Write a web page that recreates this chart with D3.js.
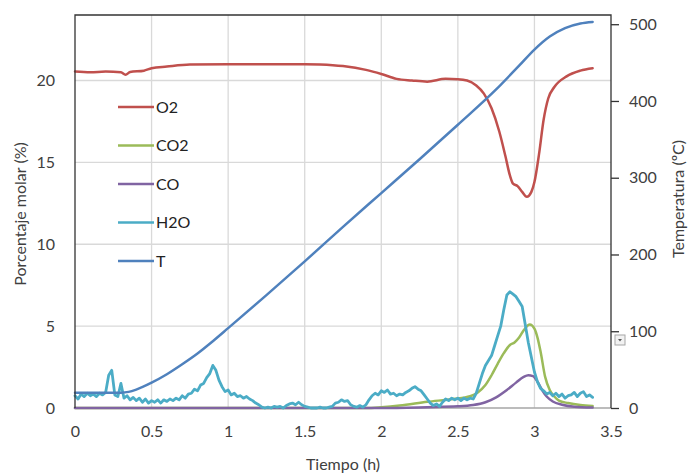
<!DOCTYPE html>
<html>
<head>
<meta charset="utf-8">
<script src="https://cdn.jsdelivr.net/npm/d3@7"></script>
<style>
  html, body { margin: 0; padding: 0; background: #fff; }
  svg { display: block; font-family: Lato, "Open Sans", sans-serif; }
</style>
</head>
<body>
<svg id="chart" width="691" height="475"></svg>
<script>
// Gas composition (% mol) and temperature (ºC) versus time (h)
const seriesNames = ["O2", "CO2", "CO", "H2O", "T"];
const seriesColors = ["#C0504D", "#9BBB59", "#8064A2", "#4BACC6", "#4F81BD"];

const xTicks = [0, 0.5, 1, 1.5, 2, 2.5, 3, 3.5];
const xTickLabels = ["0", "0.5", "1", "1.5", "2", "2.5", "3", "3.5"];
const leftTicks = [0, 5, 10, 15, 20];
const rightTicks = [0, 100, 200, 300, 400, 500];

const o2Time = [0, 0.1, 0.2, 0.3, 0.33, 0.36, 0.45, 0.5, 0.6, 0.75, 1.0, 1.25, 1.5, 1.6, 1.75, 1.9, 2.0, 2.1, 2.2, 2.3, 2.42, 2.5, 2.56, 2.62, 2.67, 2.72, 2.77, 2.81, 2.84, 2.86, 2.89, 2.92, 2.95, 2.98, 3.0, 3.03, 3.06, 3.09, 3.13, 3.21, 3.3, 3.38];
const o2Values = [20.55, 20.5, 20.55, 20.5, 20.35, 20.52, 20.6, 20.75, 20.85, 20.97, 21.0, 21.0, 21.0, 20.98, 20.88, 20.65, 20.4, 20.1, 20.0, 19.93, 20.1, 20.08, 20.0, 19.7, 19.2, 18.3, 16.9, 15.4, 14.2, 13.7, 13.55, 13.2, 12.9, 13.2, 13.8, 15.5, 17.6, 18.9, 19.6, 20.25, 20.6, 20.75];

const co2Time = [0, 1.9, 2.0, 2.12, 2.3, 2.47, 2.58, 2.63, 2.68, 2.72, 2.76, 2.8, 2.84, 2.87, 2.9, 2.93, 2.97, 3.0, 3.02, 3.04, 3.07, 3.1, 3.13, 3.16, 3.22, 3.3, 3.38];
const co2Values = [0, 0, 0.05, 0.15, 0.38, 0.55, 0.72, 0.95, 1.4, 2.0, 2.7, 3.35, 3.85, 4.0, 4.3, 4.75, 5.1, 4.85, 4.3, 3.45, 1.9, 1.1, 0.7, 0.45, 0.3, 0.18, 0.12];

const coTime = [0, 2.0, 2.3, 2.5, 2.6, 2.68, 2.75, 2.82, 2.88, 2.93, 2.96, 2.99, 3.02, 3.05, 3.08, 3.12, 3.18, 3.26, 3.38];
const coValues = [0, 0, 0.05, 0.1, 0.18, 0.35, 0.65, 1.1, 1.55, 1.9, 2.0, 1.95, 1.6, 1.1, 0.7, 0.4, 0.2, 0.08, 0.03];

// H2O sampled every 0.02 h from 0 to 3.38 h
const h2oStep = 0.02;
const h2oValues = [
  0.75, 0.55, 0.85, 0.7, 0.9, 0.75, 0.85, 0.7, 0.9, 0.8,
  0.95, 2.0, 2.3, 0.8, 0.7, 1.5, 0.6, 0.75, 0.5, 0.65,
  0.45, 0.6, 0.35, 0.55, 0.3, 0.45, 0.35, 0.5, 0.3, 0.5,
  0.4, 0.55, 0.45, 0.6, 0.5, 0.75, 0.6, 0.85, 0.9, 1.15,
  1.05, 1.4, 1.5, 1.85, 2.1, 2.6, 2.3, 1.7, 1.3, 1.0,
  1.1, 0.8, 0.9, 0.7, 0.75, 0.6, 0.7, 0.55, 0.45, 0.3,
  0.2, 0.05, 0.0, 0.05, 0.0, 0.1, 0.05, 0.1, 0.0, 0.15,
  0.25, 0.3, 0.2, 0.35, 0.2, 0.1, 0.05, 0.0, 0.0, 0.0,
  0.05, 0.0, 0.0, 0.05, 0.1, 0.3, 0.35, 0.5, 0.4, 0.45,
  0.2, 0.1, 0.05, 0.15, 0.05, 0.2, 0.5, 0.75, 0.9, 0.8,
  1.05, 0.95, 1.1, 0.85, 0.9, 0.75, 0.85, 0.8, 0.95, 1.05,
  1.2, 1.3, 1.15, 1.05, 0.8, 0.55, 0.3, 0.15, 0.25, 0.1,
  0.35, 0.55, 0.45, 0.6, 0.5, 0.6, 0.45, 0.6, 0.5, 0.6,
  0.55, 0.9, 1.5, 2.1, 2.6, 2.9, 3.2, 3.8, 4.4, 5.0,
  6.0, 6.9, 7.1, 6.95, 6.8, 6.5, 6.2, 5.1, 4.0, 3.1,
  2.2, 1.6, 1.2, 1.05, 0.85, 0.95, 0.75, 0.9, 0.7, 0.85,
  0.6, 0.75, 0.8, 0.95, 0.7, 0.9, 1.0, 0.7, 0.8, 0.65
];

const tTime = [0, 0.3, 0.35, 0.4, 0.5, 0.6, 0.7, 0.8, 0.9, 1.0, 1.25, 1.5, 1.75, 2.0, 2.25, 2.5, 2.75, 2.9, 3.0, 3.1, 3.2, 3.3, 3.38];
const tValues = [20, 20, 21, 24, 33, 44, 57, 71, 87, 104, 147, 191, 236, 280, 324, 369, 415, 446, 467, 484, 495, 501, 503];

const svg = d3.select("#chart");
const plotLeft = 75, plotRight = 611, plotTop = 15, plotBottom = 408;
const textColor = "#404040";

const x = d3.scaleLinear().domain([0, 3.5]).range([plotLeft, plotRight]);
const yL = d3.scaleLinear().domain([0, 24]).range([plotBottom, plotTop]);
const yR = d3.scaleLinear().domain([0, 512]).range([plotBottom, plotTop]);

svg.append("rect").attr("width", 691).attr("height", 475).attr("fill", "#fff");

// gridlines
const grid = svg.append("g").attr("stroke", "#d9d9d9").attr("stroke-width", 1.3);
leftTicks.filter(v => v > 0).forEach(v => {
  grid.append("line").attr("x1", plotLeft).attr("x2", plotRight).attr("y1", yL(v)).attr("y2", yL(v));
});
xTicks.filter(v => v > 0 && v < 3.5).forEach(v => {
  grid.append("line").attr("x1", x(v)).attr("x2", x(v)).attr("y1", plotTop).attr("y2", plotBottom);
});

// bottom axis line
svg.append("line").attr("x1", plotLeft).attr("x2", plotRight).attr("y1", plotBottom).attr("y2", plotBottom)
  .attr("stroke", "#a6a6a6").attr("stroke-width", 1.3);

// data lines
const zip = (ts, vs) => ts.map((t, i) => [t, vs[i]]);
const h2oData = h2oValues.map((v, i) => [+(i * h2oStep).toFixed(2), v]);
const pctSeries = [
  { data: zip(o2Time, o2Values), curve: d3.curveMonotoneX, width: 2.5 },
  { data: zip(co2Time, co2Values), curve: d3.curveMonotoneX, width: 2.5 },
  { data: zip(coTime, coValues), curve: d3.curveMonotoneX, width: 2.5 },
  { data: h2oData, curve: d3.curveLinear, width: 2.8 }
];
pctSeries.forEach((s, i) => {
  const line = d3.line().x(d => x(d[0])).y(d => yL(d[1])).curve(s.curve);
  svg.append("path").datum(s.data).attr("d", line)
    .attr("fill", "none").attr("stroke", seriesColors[i]).attr("stroke-width", s.width)
    .attr("stroke-linejoin", "round").attr("stroke-linecap", "round");
});
const tLine = d3.line().x(d => x(d[0])).y(d => yR(d[1])).curve(d3.curveMonotoneX);
svg.append("path").datum(zip(tTime, tValues)).attr("d", tLine)
  .attr("fill", "none").attr("stroke", seriesColors[4]).attr("stroke-width", 2.5)
  .attr("stroke-linecap", "round");

// frame: left, top, right
const frame = svg.append("g").attr("stroke", "#333").attr("stroke-width", 1.3).attr("fill", "none");
frame.append("path").attr("d", `M${plotLeft},${plotBottom}V${plotTop}H${plotRight}V${plotBottom}`);

// left axis labels
const axL = svg.append("g").attr("transform", `translate(${plotLeft},0)`)
  .call(d3.axisLeft(yL).tickValues(leftTicks).tickSize(0).tickPadding(20).tickFormat(d3.format("d")));
axL.select(".domain").remove();
axL.selectAll("text").attr("font-size", 16).attr("fill", textColor).attr("font-family", "Lato, sans-serif");

// right axis with outer ticks
const axR = svg.append("g").attr("transform", `translate(${plotRight},0)`)
  .call(d3.axisRight(yR).tickValues(rightTicks).tickSize(8).tickPadding(10).tickFormat(d3.format("d")));
axR.select(".domain").remove();
axR.selectAll("line").attr("stroke", "#333").attr("stroke-width", 1.3);
axR.selectAll("text").attr("font-size", 16).attr("fill", textColor).attr("font-family", "Lato, sans-serif");

// bottom axis labels
const axB = svg.append("g").attr("transform", `translate(0,${plotBottom})`)
  .call(d3.axisBottom(x).tickValues(xTicks).tickSize(0).tickPadding(18).tickFormat((d, i) => xTickLabels[i]));
axB.select(".domain").remove();
axB.selectAll("text").attr("font-size", 16).attr("fill", textColor).attr("font-family", "Lato, sans-serif");

// axis titles
svg.append("text").attr("x", (plotLeft + plotRight) / 2).attr("y", 470).attr("text-anchor", "middle")
  .attr("font-size", 16).attr("fill", textColor).text("Tiempo (h)");
svg.append("text").attr("transform", "translate(26,214) rotate(-90)").attr("text-anchor", "middle")
  .attr("font-size", 16).attr("fill", textColor).text("Porcentaje molar (%)");
svg.append("text").attr("transform", "translate(684,199) rotate(-90)").attr("text-anchor", "middle")
  .attr("font-size", 16).attr("fill", textColor).text("Temperatura (ºC)");

// small dropdown marker beside the right axis
const marker = svg.append("g").attr("transform", "translate(615,335)");
marker.append("rect").attr("width", 10).attr("height", 10).attr("fill", "#f2f2f2").attr("stroke", "#a6a6a6");
marker.append("path").attr("d", "M3,4H7L5,6.5Z").attr("fill", "#595959");

// legend
const legend = svg.append("g");
seriesNames.forEach((name, i) => {
  const yy = 107 + i * 38.5;
  legend.append("line").attr("x1", 118).attr("x2", 154).attr("y1", yy).attr("y2", yy)
    .attr("stroke", seriesColors[i]).attr("stroke-width", 2.5);
  legend.append("text").attr("x", 156).attr("y", yy).attr("dy", "0.36em")
    .attr("font-size", 16).attr("fill", "#222").text(name);
});
</script>
</body>
</html>
